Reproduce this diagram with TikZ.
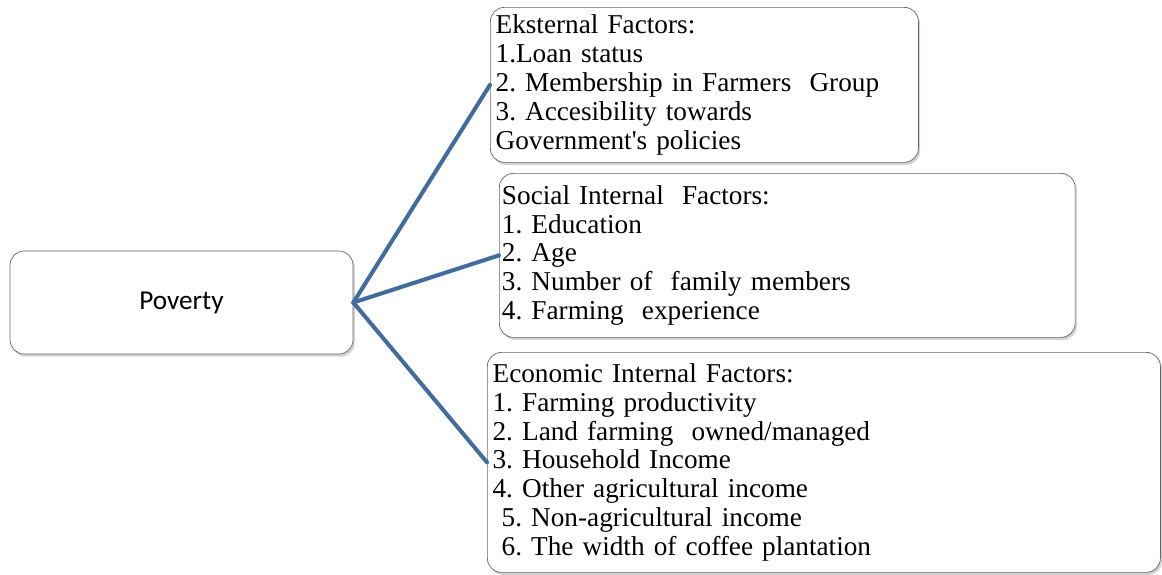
\documentclass[tikz,border=0pt]{standalone}
\usepackage{fontspec}
\setmainfont{Liberation Serif}
\newfontfamily\carlito{Carlito}
\usetikzlibrary{shadows,positioning}
\frenchspacing
\definecolor{linkblue}{RGB}{66,108,158}
\tikzstyle{factor}=[rectangle,rounded corners=8pt,draw=black!60,thin,fill=white,
  drop shadow={opacity=0.35,shadow xshift=1pt,shadow yshift=-1.5pt},
  inner xsep=3pt,inner ysep=2pt,align=left,anchor=north west,
  font=\fontsize{15.5}{16.4}\selectfont]
\tikzstyle{topic}=[rectangle,rounded corners=8pt,draw=black!60,thin,fill=white,
  drop shadow={opacity=0.35,shadow xshift=1pt,shadow yshift=-1.5pt},
  minimum width=6.86cm,minimum height=2.06cm,align=center,
  font=\carlito\fontsize{15.5}{18}\selectfont]
\tikzstyle{link}=[draw=linkblue,line width=2.3pt,line cap=round]

\begin{document}
\begin{tikzpicture}
    \useasboundingbox (0,0) rectangle (23.24,-11.48);

    \node[topic] (poverty) at (3.63,-6.05) {Poverty};

    \node[factor,text width=8.35cm,minimum height=3.1cm] (external) at (9.8,-0.14)
      {Eksternal Factors:\\
       1.Loan status\\
       2. Membership in Farmers\ \ Group\\
       3. Accesibility towards\\
       Government\textquotesingle s policies};
    \node[factor,text width=11.41cm,minimum height=3.28cm,inner xsep=1.5pt] (social) at (9.98,-3.46)
      {Social Internal\ \ Factors:\\
       1. Education\\
       2. Age\\
       3. Number of\ \ family members\\
       4. Farming\ \ experience};
    \node[factor,text width=13.25cm,minimum height=4.4cm] (economic) at (9.74,-7.04)
      {Economic Internal Factors:\\
       1. Farming productivity\\
       2. Land farming\ \ owned/managed\\
       3. Household Income\\
       4. Other agricultural income\\
       \ 5. Non-agricultural income\\
       \ 6. The width of coffee plantation};

    \draw[link] (poverty.east) -- (external.west);
    \draw[link] (poverty.east) -- (social.west);
    \draw[link] (poverty.east) -- (economic.west);
\end{tikzpicture}
\end{document}
